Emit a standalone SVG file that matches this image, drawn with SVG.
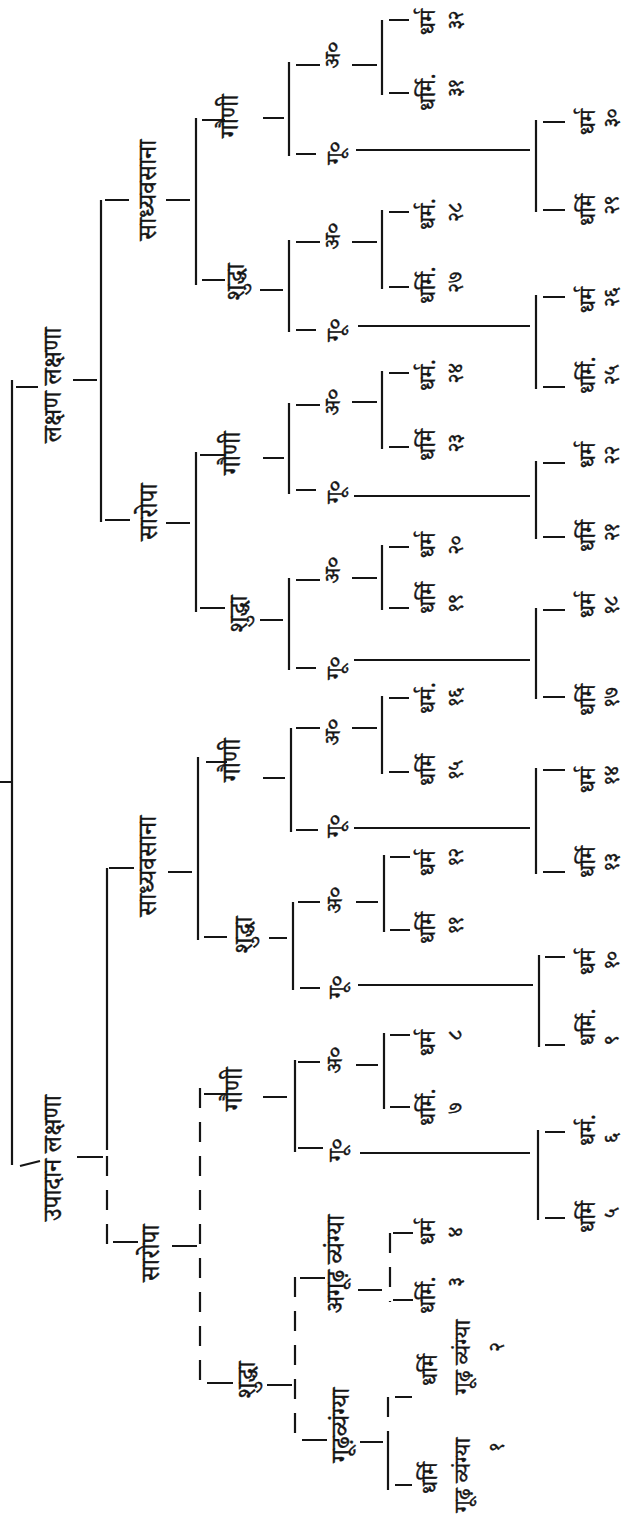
<svg xmlns="http://www.w3.org/2000/svg" width="634" height="1517" viewBox="0 0 634 1517">
<style>
.c{stroke:#151515;stroke-width:2.2;fill:none}
.d{stroke-dasharray:20 14}
text{font-family:"Noto Serif Devanagari","Noto Sans Devanagari","Lohit Devanagari","Noto Sans",sans-serif;fill:#151515;stroke:#151515;stroke-width:0.4;text-anchor:middle;dominant-baseline:central}
.a{font-size:25px}
.b{font-size:23px}
.n{font-size:20px}
</style>
<rect width="634" height="1517" fill="#fff"/>
<g id="connectors" class="c">
<path d="M12 380V1165M0 782H12M16 387H38M20 1166L40 1161"/>
<path d="M73 380H97M101 200V522M105 200H129M166 200H190M196 118V285"/>
<path d="M202 120H225M263 118H284M289 62V156M296 65H320M352 65H377M382 20V95M389 20H409M389 93H409"/>
<path d="M296 154H316M356 150H530M536 120V212M543 122H565M543 210H565"/>
<path d="M202 280H225M260 290H283M289 240V332M296 242H320M352 242H377M382 210V289M389 212H409M389 287H409"/>
<path d="M296 330H316M358 326H530M536 295V389M543 297H565M543 387H565"/>
<path d="M105 520H130M166 523H190M196 452V612"/>
<path d="M200 455H225M263 458H284M289 403V494M296 405H320M352 402H377M382 371V449M389 373H409M389 447H409"/>
<path d="M296 490H316M354 496H530M536 461V539M543 463H565M543 537H565"/>
<path d="M200 608H225M260 620H283M289 578V670M296 580H320M352 578H377M382 545V610M389 547H409M389 608H409"/>
<path d="M296 668H316M354 660H530M536 608V699M543 610H565M543 697H565"/>
<path d="M77 1157H103M107 868V1150M109 868H134M168 872H192M198 757V940"/>
<path class="d" d="M107 1156V1244"/>
<path d="M206 762H227M263 778H285M291 728V832M296 728H320M352 728H377M382 696V774M389 698H409M389 772H409"/>
<path d="M296 830H318M354 828H530M536 768V874M543 770H565M543 872H565"/>
<path d="M204 937H227M269 938H287M293 902V990M298 902H320M356 902H378M384 855V932M390 857H410M390 930H410"/>
<path d="M300 988H320M358 985H533M539 955V1047M545 957H565M545 1045H565"/>
<path d="M113 1242H138M172 1246H197"/>
<path class="d" d="M200 1088V1385"/>
<path d="M204 1094H227M263 1097H287M295 1060V1152M298 1062H320M356 1065H378M384 1033V1109M390 1035H410M390 1107H410"/>
<path d="M298 1148H323M360 1153H530M538 1130V1220M545 1132H565M545 1218H565"/>
<path d="M207 1383H233M267 1385H292"/>
<path class="d" d="M295 1277V1442"/>
<path d="M300 1278H325M358 1290H382M393 1233H413M393 1300H413"/>
<path class="d" d="M390 1233V1302"/>
<path d="M302 1440H327M360 1442H383M388 1440V1490M395 1397H412M395 1485H412"/>
<path class="d" d="M388 1397V1440"/>
</g>
<g id="n-lakshan"><text class="a" transform="translate(57 385) rotate(-90)">लक्षण लक्षणा</text></g>
<g id="n-upadan"><text class="a" transform="translate(57 1158) rotate(-90)">उपादान लक्षणा</text></g>
<g id="n-l-sadhya"><text class="a" transform="translate(152 190) rotate(-90)">साध्यवसाना</text></g>
<g id="n-l-saropa"><text class="a" transform="translate(153 512) rotate(-90)">सारोपा</text></g>
<g id="n-u-sadhya"><text class="a" transform="translate(152 866) rotate(-90)">साध्यवसाना</text></g>
<g id="n-u-saropa"><text class="a" transform="translate(155 1253) rotate(-90)">सारोपा</text></g>
<g id="n-g1"><text class="a" transform="translate(234 116) rotate(-90)">गौणी</text></g>
<g id="n-s1"><text class="a" transform="translate(240 282) rotate(-90)">शुद्धा</text></g>
<g id="n-g2"><text class="a" transform="translate(236 453) rotate(-90)">गौणी</text></g>
<g id="n-s2"><text class="a" transform="translate(243 614) rotate(-90)">शुद्धा</text></g>
<g id="n-g3"><text class="a" transform="translate(236 760) rotate(-90)">गौणी</text></g>
<g id="n-s3"><text class="a" transform="translate(248 935) rotate(-90)">शुद्धा</text></g>
<g id="n-g4"><text class="a" transform="translate(238 1089) rotate(-90)">गौणी</text></g>
<g id="n-s4"><text class="a" transform="translate(251 1380) rotate(-90)">शुद्धा</text></g>
<g id="n-a1"><text class="b" transform="translate(336 55) rotate(-90)">अ०</text></g>
<g id="n-u1"><text class="b" transform="translate(338 153) rotate(-90)">गू०</text></g>
<g id="n-a2"><text class="b" transform="translate(336 236) rotate(-90)">अ०</text></g>
<g id="n-u2"><text class="b" transform="translate(338 330) rotate(-90)">गू०</text></g>
<g id="n-a3"><text class="b" transform="translate(336 402) rotate(-90)">अ०</text></g>
<g id="n-u3"><text class="b" transform="translate(338 492) rotate(-90)">गू०</text></g>
<g id="n-a4"><text class="b" transform="translate(336 570) rotate(-90)">अ०</text></g>
<g id="n-u4"><text class="b" transform="translate(338 668) rotate(-90)">गू०</text></g>
<g id="n-a5"><text class="b" transform="translate(336 732) rotate(-90)">अ०</text></g>
<g id="n-u5"><text class="b" transform="translate(338 826) rotate(-90)">गू०</text></g>
<g id="n-a6"><text class="b" transform="translate(338 900) rotate(-90)">अ०</text></g>
<g id="n-u6"><text class="b" transform="translate(340 987) rotate(-90)">गू०</text></g>
<g id="n-a7"><text class="b" transform="translate(338 1060) rotate(-90)">अ०</text></g>
<g id="n-u7"><text class="b" transform="translate(340 1150) rotate(-90)">गू०</text></g>
<g id="n-a8"><text class="a" transform="translate(340 1264) rotate(-90)">अगूढ़ व्यंग्या</text></g>
<g id="n-u8"><text class="a" transform="translate(345 1425) rotate(-90)">गूढ़व्यंग्या</text></g>
<g id="leaf-32"><text class="b" transform="translate(431 22) rotate(-90)">धर्म</text><text class="n" transform="translate(459 20) rotate(-90)">३२</text></g>
<g id="leaf-31"><text class="b" transform="translate(431 92) rotate(-90)">धर्मि.</text><text class="n" transform="translate(459 88) rotate(-90)">३१</text></g>
<g id="leaf-30"><text class="b" transform="translate(591 122) rotate(-90)">धर्म</text><text class="n" transform="translate(615 118) rotate(-90)">३०</text></g>
<g id="leaf-29"><text class="b" transform="translate(591 210) rotate(-90)">धर्मि</text><text class="n" transform="translate(615 205) rotate(-90)">२९</text></g>
<g id="leaf-28"><text class="b" transform="translate(431 214) rotate(-90)">धर्म.</text><text class="n" transform="translate(459 212) rotate(-90)">२८</text></g>
<g id="leaf-27"><text class="b" transform="translate(431 285) rotate(-90)">धर्मि.</text><text class="n" transform="translate(459 282) rotate(-90)">२७</text></g>
<g id="leaf-26"><text class="b" transform="translate(591 300) rotate(-90)">धर्म</text><text class="n" transform="translate(615 297) rotate(-90)">२६</text></g>
<g id="leaf-25"><text class="b" transform="translate(591 375) rotate(-90)">धर्मि.</text><text class="n" transform="translate(615 375) rotate(-90)">२५</text></g>
<g id="leaf-24"><text class="b" transform="translate(431 375) rotate(-90)">धर्म.</text><text class="n" transform="translate(459 373) rotate(-90)">२४</text></g>
<g id="leaf-23"><text class="b" transform="translate(431 445) rotate(-90)">धर्मि</text><text class="n" transform="translate(459 443) rotate(-90)">२३</text></g>
<g id="leaf-22"><text class="b" transform="translate(591 455) rotate(-90)">धर्म</text><text class="n" transform="translate(615 455) rotate(-90)">२२</text></g>
<g id="leaf-21"><text class="b" transform="translate(591 536) rotate(-90)">धर्मि</text><text class="n" transform="translate(615 532) rotate(-90)">२१</text></g>
<g id="leaf-20"><text class="b" transform="translate(431 545) rotate(-90)">धर्म</text><text class="n" transform="translate(459 545) rotate(-90)">२०</text></g>
<g id="leaf-19"><text class="b" transform="translate(431 598) rotate(-90)">धर्मि</text><text class="n" transform="translate(459 603) rotate(-90)">१९</text></g>
<g id="leaf-18"><text class="b" transform="translate(591 605) rotate(-90)">धर्म</text><text class="n" transform="translate(615 605) rotate(-90)">१८</text></g>
<g id="leaf-17"><text class="b" transform="translate(591 700) rotate(-90)">धर्मि</text><text class="n" transform="translate(615 697) rotate(-90)">१७</text></g>
<g id="leaf-16"><text class="b" transform="translate(431 698) rotate(-90)">धर्म.</text><text class="n" transform="translate(459 697) rotate(-90)">१६</text></g>
<g id="leaf-15"><text class="b" transform="translate(431 770) rotate(-90)">धर्मि</text><text class="n" transform="translate(459 770) rotate(-90)">१५</text></g>
<g id="leaf-14"><text class="b" transform="translate(591 780) rotate(-90)">धर्म</text><text class="n" transform="translate(615 775) rotate(-90)">१४</text></g>
<g id="leaf-13"><text class="b" transform="translate(591 862) rotate(-90)">धर्मि</text><text class="n" transform="translate(615 862) rotate(-90)">१३</text></g>
<g id="leaf-12"><text class="b" transform="translate(431 863) rotate(-90)">धर्म</text><text class="n" transform="translate(459 857) rotate(-90)">१२</text></g>
<g id="leaf-11"><text class="b" transform="translate(431 928) rotate(-90)">धर्मि</text><text class="n" transform="translate(459 925) rotate(-90)">११</text></g>
<g id="leaf-10"><text class="b" transform="translate(591 962) rotate(-90)">धर्म</text><text class="n" transform="translate(615 960) rotate(-90)">१०</text></g>
<g id="leaf-9"><text class="b" transform="translate(591 1027) rotate(-90)">धर्मि.</text><text class="n" transform="translate(615 1040) rotate(-90)">९</text></g>
<g id="leaf-8"><text class="b" transform="translate(431 1043) rotate(-90)">धर्म</text><text class="n" transform="translate(459 1035) rotate(-90)">८</text></g>
<g id="leaf-7"><text class="b" transform="translate(431 1107) rotate(-90)">धर्मि.</text><text class="n" transform="translate(459 1108) rotate(-90)">७</text></g>
<g id="leaf-6"><text class="b" transform="translate(591 1130) rotate(-90)">धर्म.</text><text class="n" transform="translate(615 1138) rotate(-90)">६</text></g>
<g id="leaf-5"><text class="b" transform="translate(591 1217) rotate(-90)">धर्मि</text><text class="n" transform="translate(615 1213) rotate(-90)">५</text></g>
<g id="leaf-4"><text class="b" transform="translate(431 1232) rotate(-90)">धर्म</text><text class="n" transform="translate(459 1232) rotate(-90)">४</text></g>
<g id="leaf-3"><text class="b" transform="translate(431 1295) rotate(-90)">धर्मि.</text><text class="n" transform="translate(459 1282) rotate(-90)">३</text></g>
<g id="leaf-2"><text class="b" transform="translate(433 1370) rotate(-90)">धर्मि</text><text class="b" transform="translate(466 1357) rotate(-90)">गूढ़ व्यंग्या</text><text class="n" transform="translate(500 1347) rotate(-90)">२</text></g>
<g id="leaf-1"><text class="b" transform="translate(433 1478) rotate(-90)">धर्मि</text><text class="b" transform="translate(466 1475) rotate(-90)">गूढ़ व्यंग्या</text><text class="n" transform="translate(500 1447) rotate(-90)">१</text></g>
</svg>
